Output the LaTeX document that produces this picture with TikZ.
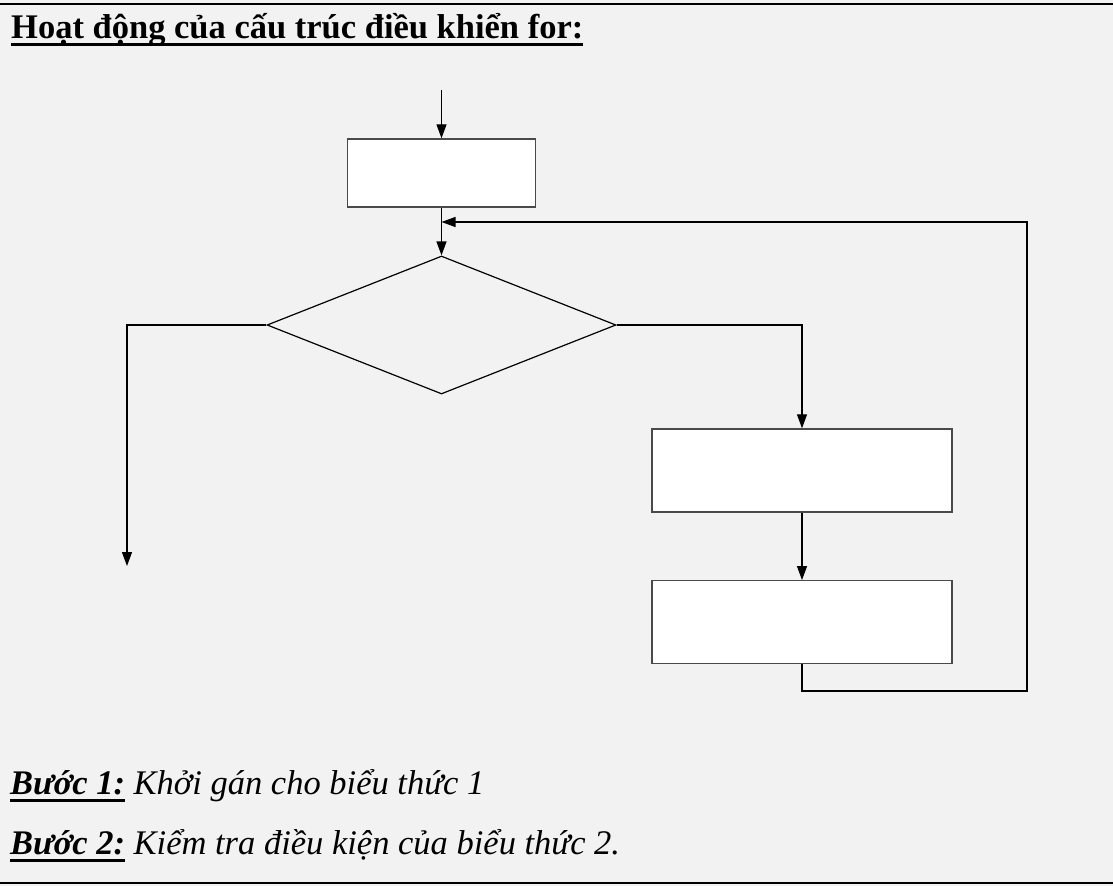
\documentclass[tikz,border=0pt]{standalone}
\usepackage{fontspec}
\setmainfont{Liberation Serif}
\usetikzlibrary{arrows.meta,shapes.geometric}

% thick word-processor style underline at a fixed depth below the baseline
\newcommand\wordul[1]{\setbox0\hbox{#1}\rlap{\rule[-8pt]{\wd0}{3.5pt}}\box0\relax}
\newcommand\bigtext{\fontsize{34.5}{40}\selectfont}

\definecolor{pagebg}{HTML}{F2F2F2}
\definecolor{boxline}{HTML}{4A4A4A}

\begin{document}
\begin{tikzpicture}[x=1pt,y=-1pt,
  conn/.style={draw=black,line width=1.2pt,-{Triangle[length=14pt,width=10pt]}},
  procbox/.style={draw=boxline,fill=white,line width=1.4pt,inner sep=0pt},
  testbox/.style={diamond,draw=black,line width=1.2pt,inner sep=0pt},
  textline/.style={anchor=base west,inner sep=0pt,font=\bigtext},
  rule/.style={draw=black,line width=2.2pt}]

  % page background and frame lines
  \fill[pagebg] (0,0) rectangle (1113,886);
  \useasboundingbox (0,0) rectangle (1113,886);
  \coordinate (topL) at (0,4);
  \coordinate (topR) at (1113,4);
  \coordinate (botL) at (0,883);
  \coordinate (botR) at (1113,883);
  \draw[rule] (topL) -- (topR);
  \draw[rule] (botL) -- (botR);

  % heading
  \node[textline] (title) at (11,38)
    {\bfseries\wordul{Hoạt động của cấu trúc điều khiển for:}};

  % flowchart blocks
  \node[procbox,minimum width=188pt,minimum height=68pt] (init) at (441.5,173) {};
  \node[testbox,minimum width=349pt,minimum height=138pt] (test) at (441.5,325) {};
  \node[procbox,minimum width=300pt,minimum height=83pt] (body) at (802,470.5) {};
  \node[procbox,minimum width=300pt,minimum height=82.5pt] (update) at (802,622) {};

  % free ends of connectors
  \coordinate (entry) at (441.5,90);
  \coordinate (exit) at (127,566);
  \coordinate (loopcorner) at (1027,691);
  \coordinate (merge) at (441.5,222);

  % connectors
  \draw[conn] (entry) -- (init.north);
  \draw[conn] (init.south) -- (test.north);
  \draw[conn] (test.west) -| (exit);
  \draw[conn] (test.east) -| (body.north);
  \draw[conn] (body.south) -- (update.north);
  \draw[conn] (update.south) |- (loopcorner) |- (merge);

  % step descriptions
  \node[textline] (step1) at (10,794)
    {\itshape\wordul{\bfseries Bước 1:} Khởi gán cho biểu thức 1};
  \node[textline] (step2) at (10,854)
    {\itshape\wordul{\bfseries Bước 2:} Kiểm tra điều kiện của biểu thức 2.};
\end{tikzpicture}
\end{document}
